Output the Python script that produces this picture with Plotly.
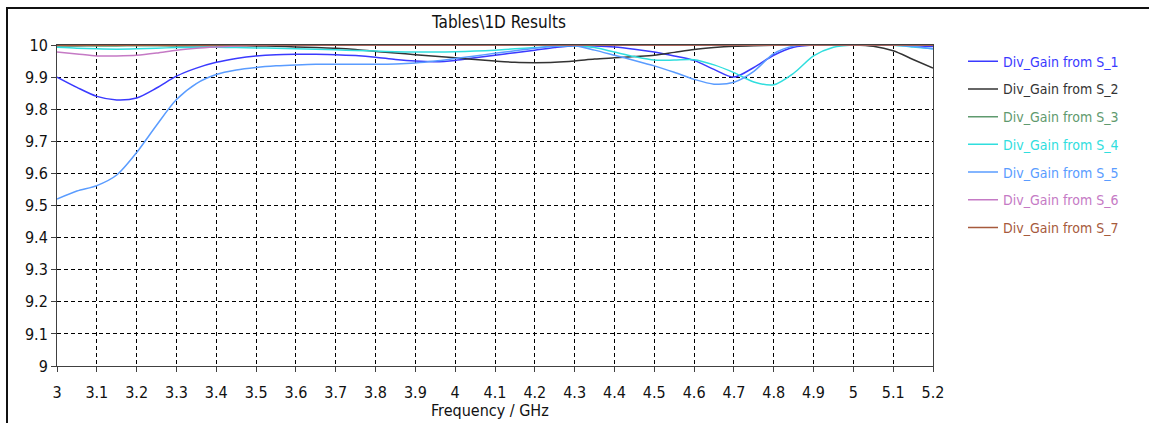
import plotly.graph_objects as go

freq = [3.00, 3.05, 3.10, 3.15, 3.20, 3.25, 3.30, 3.35, 3.40, 3.45,
        3.50, 3.55, 3.60, 3.65, 3.70, 3.75, 3.80, 3.85, 3.90, 3.95,
        4.00, 4.05, 4.10, 4.15, 4.20, 4.25, 4.30, 4.35, 4.40, 4.45,
        4.50, 4.55, 4.60, 4.65, 4.70, 4.75, 4.80, 4.85, 4.90, 4.95,
        5.00, 5.05, 5.10, 5.15, 5.20]

s1 = [9.900, 9.868, 9.840, 9.829, 9.835, 9.866, 9.903, 9.928, 9.946, 9.958,
      9.966, 9.970, 9.971, 9.971, 9.970, 9.967, 9.962, 9.955, 9.950, 9.948,
      9.952, 9.960, 9.968, 9.976, 9.984, 9.992, 9.998, 9.997, 9.994, 9.987,
      9.978, 9.966, 9.952, 9.924, 9.900, 9.930, 9.968, 9.993, 10.0, 10.0,
      10.0, 10.0, 10.0, 9.998, 9.995]

s2 = [9.998, 9.998, 9.999, 9.999, 9.999, 9.999, 9.998, 9.998, 9.998, 9.998,
      9.997, 9.996, 9.994, 9.992, 9.990, 9.986, 9.980, 9.975, 9.970, 9.965,
      9.960, 9.955, 9.950, 9.946, 9.945, 9.946, 9.950, 9.956, 9.960, 9.964,
      9.968, 9.977, 9.986, 9.992, 9.996, 9.998, 9.999, 10.0, 10.0, 10.0,
      10.0, 9.996, 9.982, 9.955, 9.928]

s3 = [9.998, 9.998, 9.997, 9.997, 9.998, 9.998, 9.998, 9.999, 9.999, 9.999,
      10.0, 10.0, 10.0, 10.0, 10.0, 10.0, 10.0, 10.0, 10.0, 10.0,
      10.0, 10.0, 10.0, 10.0, 10.0, 10.0, 10.0, 10.0, 10.0, 10.0,
      10.0, 10.0, 10.0, 10.0, 10.0, 10.0, 10.0, 10.0, 10.0, 10.0,
      10.0, 10.0, 10.0, 10.0, 9.999]

s4 = [9.993, 9.990, 9.988, 9.987, 9.988, 9.990, 9.992, 9.993, 9.993, 9.992,
      9.991, 9.990, 9.988, 9.987, 9.985, 9.983, 9.981, 9.979, 9.978, 9.978,
      9.979, 9.981, 9.984, 9.988, 9.992, 9.996, 9.998, 9.992, 9.978, 9.964,
      9.953, 9.953, 9.954, 9.938, 9.914, 9.885, 9.876, 9.912, 9.966, 9.993,
      10.0, 10.0, 9.999, 9.994, 9.988]

s5 = [9.520, 9.545, 9.562, 9.595, 9.665, 9.750, 9.830, 9.880, 9.908, 9.922,
      9.930, 9.935, 9.938, 9.940, 9.940, 9.940, 9.940, 9.941, 9.944, 9.950,
      9.958, 9.966, 9.974, 9.982, 9.990, 9.996, 9.998, 9.984, 9.968, 9.952,
      9.935, 9.915, 9.893, 9.878, 9.884, 9.918, 9.973, 9.997, 10.0, 10.0,
      10.0, 10.0, 10.0, 9.995, 9.988]

s6 = [9.978, 9.972, 9.966, 9.966, 9.968, 9.975, 9.984, 9.990, 9.994, 9.997,
      9.999, 10.0, 10.0, 10.0, 10.0, 10.0, 10.0, 10.0, 10.0, 10.0,
      10.0, 10.0, 10.0, 10.0, 10.0, 10.0, 10.0, 10.0, 10.0, 10.0,
      10.0, 10.0, 10.0, 10.0, 10.0, 10.0, 10.0, 10.0, 10.0, 10.0,
      10.0, 10.0, 10.0, 10.0, 10.0]

s7 = [9.999, 9.999, 9.999, 9.999, 9.999, 9.999, 9.999, 9.999, 10.0, 10.0,
      10.0, 10.0, 10.0, 10.0, 10.0, 10.0, 10.0, 10.0, 10.0, 10.0,
      10.0, 10.0, 10.0, 10.0, 10.0, 10.0, 10.0, 10.0, 10.0, 10.0,
      10.0, 10.0, 10.0, 10.0, 10.0, 10.0, 10.0, 10.0, 10.0, 10.0,
      10.0, 10.0, 10.0, 10.0, 10.0]

names = ["Div_Gain from S_1", "Div_Gain from S_2", "Div_Gain from S_3",
         "Div_Gain from S_4", "Div_Gain from S_5", "Div_Gain from S_6",
         "Div_Gain from S_7"]
series = [s1, s2, s3, s4, s5, s6, s7]
colors = ["#3a3aff", "#333333", "#5f9a6e", "#30dede", "#5a9cff", "#c57ac5", "#a65a3c"]

x_ticks = [3.0, 3.1, 3.2, 3.3, 3.4, 3.5, 3.6, 3.7, 3.8, 3.9, 4.0, 4.1,
           4.2, 4.3, 4.4, 4.5, 4.6, 4.7, 4.8, 4.9, 5.0, 5.1, 5.2]
x_labels = ["3", "3.1", "3.2", "3.3", "3.4", "3.5", "3.6", "3.7", "3.8", "3.9", "4", "4.1",
            "4.2", "4.3", "4.4", "4.5", "4.6", "4.7", "4.8", "4.9", "5", "5.1", "5.2"]
y_ticks = [9.0, 9.1, 9.2, 9.3, 9.4, 9.5, 9.6, 9.7, 9.8, 9.9, 10.0]
y_labels = ["9", "9.1", "9.2", "9.3", "9.4", "9.5", "9.6", "9.7", "9.8", "9.9", "10"]

FONT = "Tahoma, 'DejaVu Sans Condensed', 'DejaVu Sans', sans-serif"

fig = go.Figure()
for i, (nm, ys, col) in enumerate(zip(names, series, colors)):
    fig.add_trace(go.Scatter(
        x=freq, y=ys, mode="lines",
        line=dict(color=col, width=1.5, shape="spline", smoothing=0.8),
        name=f"<span style='color:{col}'>{nm}</span>",
        legendgroup=f"g{i}",
    ))

fig.update_layout(
    width=1149, height=423,
    margin=dict(l=57, r=216, t=45, b=57),
    paper_bgcolor="white", plot_bgcolor="white",
    font=dict(family=FONT, size=14, color="#111111"),
    showlegend=True,
    legend=dict(x=(963 - 57) / 876, y=0.998, xanchor="left", yanchor="top",
                font=dict(family=FONT, size=14), tracegroupgap=6.5,
                bgcolor="rgba(0,0,0,0)"),
    xaxis=dict(range=[3.0, 5.2], tickvals=x_ticks, ticktext=x_labels,
               showgrid=True, gridcolor="#000000", gridwidth=1, griddash="4px,3px",
               showline=True, linecolor="#404040", linewidth=1, mirror=True,
               ticks="outside", ticklen=5, tickcolor="#404040",
               ticklabelstandoff=7,
               zeroline=False, tickfont=dict(size=16)),
    yaxis=dict(range=[9.0, 10.0], tickvals=y_ticks, ticktext=y_labels,
               showgrid=True, gridcolor="#000000", gridwidth=1, griddash="4px,3px",
               showline=True, linecolor="#404040", linewidth=1, mirror=True,
               ticks="outside", ticklen=5, tickcolor="#404040",
               zeroline=False, tickfont=dict(size=16)),
    annotations=[
        dict(text="Tables\\1D Results", xref="paper", yref="paper",
             x=(498 - 57) / 876, y=1.0 + (45 - 22) / 321, xanchor="center", yanchor="middle",
             showarrow=False, font=dict(size=17)),
        dict(text="Frequency / GHz", xref="paper", yref="paper",
             x=(490 - 57) / 876, y=-(411 - 366) / 321, xanchor="center", yanchor="middle",
             showarrow=False, font=dict(size=16)),
    ],
    shapes=[
        dict(type="rect", xref="paper", yref="paper",
             x0=(7 - 57) / 876, x1=1.3, y0=-0.3, y1=1.0 + (45 - 8) / 321,
             line=dict(color="#111111", width=2), fillcolor="rgba(0,0,0,0)"),
    ],
)

fig.write_html("out.html")
